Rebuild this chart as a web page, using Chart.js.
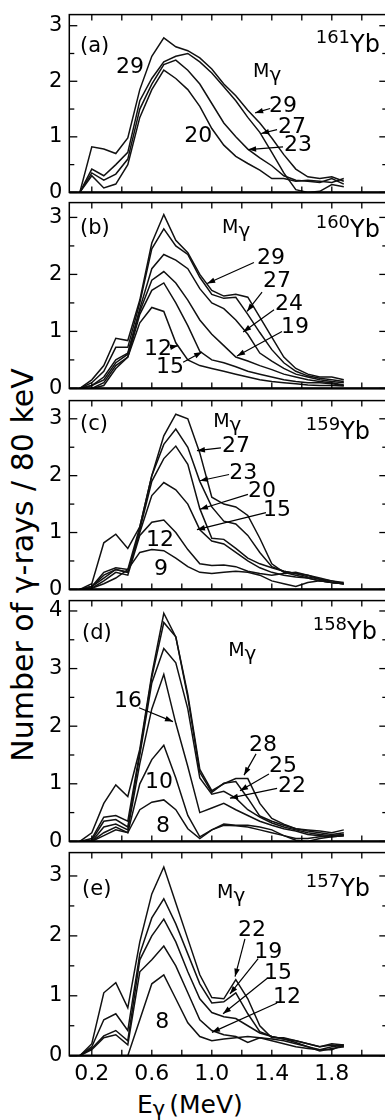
<!DOCTYPE html>
<html><head><meta charset="utf-8">
<script src="https://cdn.jsdelivr.net/npm/chart.js@4.4.1/dist/chart.umd.min.js"></script>
<style>
html,body{margin:0;padding:0;background:#fff;overflow:hidden;}
#wrap{position:relative;width:385px;height:1120px;overflow:hidden;background:#fff;}
#wrap canvas{position:absolute;left:0;}
.t{position:absolute;font-family:"DejaVu Sans",sans-serif;color:#000;white-space:nowrap;}
#ytitle{font-size:30px;line-height:30px;width:440px;text-align:center;left:-197.5px;top:550px;transform:rotate(-90deg);transform-origin:50% 50%;}
#xtitle{font-size:25px;line-height:25px;left:137px;top:1092px;}
#xtitle span{font-size:21px;vertical-align:-3px;margin-right:4px;}
</style></head><body><div id="wrap">
<div class="t" id="ytitle">Number of γ-rays / 80 keV</div>
<div class="t" id="xtitle">E<span>γ</span>(MeV)</div>
</div>
<script>
// ---- data (80 keV bins) ----
const energies = [0.12,0.20,0.28,0.36,0.44,0.52,0.60,0.68,0.76,0.84,0.92,1.00,1.08,1.16,1.24,1.32,1.40,1.48,1.56,1.64,1.72,1.80,1.88];

// (a) 161Yb
const a29 = [0,0.82,0.78,0.70,0.98,1.85,2.45,2.78,2.62,2.55,2.42,2.22,1.95,1.74,1.48,1.25,0.98,0.68,0.42,0.28,0.25,0.28,0.20];
const a27 = [0,0.42,0.30,0.50,0.72,1.65,2.05,2.35,2.45,2.50,2.35,2.15,1.90,1.65,1.35,1.08,0.72,0.35,0.05,0.00,0.02,0.14,0.10];
const a23 = [0,0.35,0.22,0.33,0.60,1.50,1.95,2.30,2.38,2.20,1.95,1.60,1.25,1.00,0.78,0.62,0.48,0.30,0.22,0.20,0.18,0.25,0.15];
const a20 = [0,0.30,0.08,0.15,0.50,1.35,1.85,2.20,2.05,1.85,1.55,1.15,0.85,0.65,0.52,0.40,0.25,0.25,0.20,0.22,0.20,0.18,0.25];

// (b) 160Yb
const b29 = [0,0.15,0.40,0.88,0.84,1.55,2.55,3.05,2.60,2.38,2.00,1.72,1.62,1.65,1.60,1.25,0.90,0.55,0.35,0.25,0.20,0.20,0.15];
const b27 = [0,0.10,0.30,0.72,0.72,1.50,2.45,2.80,2.50,2.35,1.95,1.65,1.58,1.60,1.30,0.98,0.68,0.45,0.30,0.22,0.18,0.15,0.12];
const b24 = [0,0.05,0.20,0.50,0.62,1.40,2.10,2.35,2.25,2.10,1.75,1.50,1.40,1.20,0.95,0.62,0.48,0.35,0.25,0.20,0.15,0.12,0.10];
const b19 = [0,0.05,0.15,0.45,0.60,1.35,1.90,2.05,1.85,1.55,1.20,0.95,0.75,0.55,0.48,0.40,0.33,0.25,0.20,0.15,0.12,0.10,0.06];
const b15 = [0,0.00,0.10,0.40,0.55,1.30,1.72,1.85,1.50,1.10,0.65,0.50,0.45,0.38,0.30,0.25,0.20,0.15,0.12,0.10,0.10,0.08,0.05];
const b12 = [0,0.00,0.05,0.35,0.55,1.15,1.42,1.35,0.80,0.50,0.40,0.35,0.30,0.25,0.20,0.15,0.12,0.10,0.08,0.06,0.05,0.05,0.04];

// (c) 159Yb
const c27 = [0,0.10,0.82,0.97,0.72,1.10,2.00,2.70,3.08,3.00,2.40,1.62,1.50,1.45,1.30,0.90,0.45,0.30,0.25,0.20,0.15,0.12,0.10];
const c23 = [0,0.05,0.30,0.38,0.35,1.10,2.00,2.55,2.82,2.50,1.90,1.45,1.20,1.15,0.95,0.65,0.40,0.32,0.28,0.25,0.20,0.15,0.10];
const c20 = [0,0.05,0.25,0.35,0.30,1.05,1.90,2.30,2.52,2.20,1.42,0.90,0.88,0.72,0.55,0.45,0.38,0.32,0.28,0.22,0.18,0.15,0.12];
const c15 = [0,0.05,0.20,0.35,0.30,1.00,1.65,1.88,1.75,1.50,1.05,0.85,0.80,0.65,0.50,0.38,0.30,0.25,0.22,0.20,0.15,0.12,0.10];
const c12 = [0,0.02,0.15,0.30,0.25,0.95,1.18,1.22,1.00,0.70,0.45,0.42,0.43,0.40,0.32,0.28,0.25,0.28,0.30,0.25,0.18,0.12,0.10];
const c9  = [0,0.02,0.10,0.20,0.35,0.65,0.70,0.68,0.55,0.40,0.30,0.28,0.30,0.32,0.30,0.25,0.15,0.10,0.05,0.12,0.15,0.12,0.10];

// (d) 158Yb
const d28 = [0,0.15,0.66,0.98,0.78,1.60,2.90,3.96,3.55,2.55,1.25,0.88,1.00,1.09,1.09,0.66,0.40,0.30,0.22,0.20,0.18,0.15,0.20];
const d25 = [0,0.05,0.42,0.45,0.35,1.55,2.85,3.80,3.55,2.50,1.20,0.85,1.01,1.04,0.75,0.44,0.35,0.28,0.22,0.18,0.15,0.12,0.15];
const d22 = [0,0.02,0.35,0.38,0.25,1.50,2.75,3.35,3.10,2.30,1.10,0.82,0.87,0.75,0.55,0.42,0.32,0.25,0.20,0.15,0.12,0.10,0.12];
const d16 = [0,0.00,0.25,0.30,0.20,1.35,2.30,2.90,2.05,1.30,0.50,0.58,0.66,0.55,0.45,0.35,0.28,0.22,0.18,0.12,0.10,0.08,0.10];
const d10 = [0,0.00,0.15,0.25,0.15,1.00,1.42,1.67,1.10,0.45,0.08,0.20,0.30,0.28,0.28,0.25,0.20,0.10,0.02,0.00,0.05,0.08,0.10];
const d8  = [0,0.00,0.10,0.20,0.15,0.55,0.68,0.72,0.55,0.22,0.05,0.20,0.28,0.27,0.25,0.20,0.15,0.10,0.05,0.05,0.08,0.10,0.12];

// (e) 157Yb
const e22 = [0,0.20,1.05,1.22,0.80,1.90,2.70,3.15,2.55,1.95,1.35,0.97,0.95,1.27,0.95,0.50,0.30,0.30,0.25,0.20,0.15,0.20,0.18];
const e19 = [0,0.15,0.60,0.70,0.42,1.70,2.30,2.62,2.20,1.70,1.20,0.88,0.90,1.05,0.70,0.40,0.32,0.28,0.25,0.20,0.15,0.18,0.15];
const e15 = [0,0.12,0.33,0.42,0.25,1.60,2.00,2.28,1.90,1.40,0.95,0.72,0.65,0.62,0.50,0.38,0.32,0.28,0.22,0.15,0.08,0.12,0.15];
const e12 = [0,0.10,0.30,0.35,0.18,1.40,1.60,1.83,1.50,1.05,0.60,0.42,0.35,0.32,0.22,0.30,0.28,0.25,0.20,0.15,0.10,0.10,0.18];
const e8  = [0,0.00,0.00,0.00,0.00,0.60,1.20,1.35,0.95,0.55,0.32,0.25,0.28,0.30,0.32,0.30,0.25,0.20,0.15,0.12,0.10,0.15,0.18];

// ticks
const xTicks = [0.2,0.4,0.6,0.8,1.0,1.2,1.4,1.6,1.8,2.0];
const xLabelled = [0.2,0.6,1.0,1.4,1.8];
const yTicks3 = [0,0.5,1,1.5,2,2.5,3];
const yTicks4 = [0,0.5,1,1.5,2,2.5,3,3.5,4];

// ---- rendering ----
const FONT = '"DejaVu Sans", sans-serif';
Chart.defaults.font.family = FONT;
Chart.defaults.color = '#000';
const wrap = document.getElementById('wrap');
const pts = arr => energies.map((e,i)=>({x:e,y:arr[i]}));

const panels = [
 {name:'a', top:10.7, zero:199.3, max:3.2, yTicks:yTicks3, series:[a29,a27,a23,a20],
  lab:{t:'(a)',x:0.121,y:2.53}, iso:{m:'161',x:2.121,y:2.52}, mg:{x:1.275,y:2.07},
  nums:[['29',0.455,2.25],['20',0.909,1.01],['29',1.475,1.55],['27',1.535,1.17],['23',1.575,0.84]],
  arrows:[[1.389,1.51,1.289,1.43],[1.435,1.13,1.329,1.06],[1.475,0.82,1.242,0.77]]},
 {name:'b', top:199.3, zero:396.7, max:3.26, yTicks:yTicks3, series:[b29,b27,b24,b19,b15,b12],
  lab:{t:'(b)',x:0.121,y:2.71}, iso:{m:'160',x:2.121,y:2.65}, mg:{x:1.068,y:2.72},
  nums:[['29',1.395,2.29],['27',1.435,1.88],['24',1.515,1.48],['19',1.555,1.07],['12',0.641,0.69],['15',0.722,0.37]],
  arrows:[[1.281,2.21,0.969,1.84],[1.335,1.69,1.235,1.35],[1.415,1.38,1.209,0.99],[1.468,1.00,1.168,0.57],[0.721,0.72,0.775,0.75],[0.809,0.46,0.935,0.64]]},
 {name:'c', top:396.7, zero:596.7, max:3.32, yTicks:yTicks3, series:[c27,c23,c20,c15,c12,c9],
  lab:{t:'(c)',x:0.121,y:2.80}, iso:{m:'159',x:2.055,y:2.65}, mg:{x:1.009,y:2.85},
  nums:[['27',1.162,2.52],['23',1.209,2.05],['20',1.335,1.72],['15',1.435,1.39],['12',0.655,0.86],['9',0.661,0.36]],
  arrows:[[1.061,2.49,0.901,2.44],[1.115,2.02,0.921,1.91],[1.241,1.67,0.921,1.41],[1.361,1.35,0.901,1.05]]},
 {name:'d', top:596.7, zero:848.3, max:4.18, yTicks:yTicks4, series:[d28,d25,d22,d16,d10,d8],
  lab:{t:'(d)',x:0.135,y:3.51}, iso:{m:'158',x:2.101,y:3.52}, mg:{x:1.109,y:3.21},
  nums:[['16',0.442,2.43],['28',1.341,1.66],['25',1.475,1.30],['22',1.535,0.95],['10',0.648,1.02],['8',0.675,0.27]],
  arrows:[[0.515,2.32,0.741,2.08],[1.295,1.52,1.215,1.15],[1.381,1.17,1.188,0.88],[1.435,0.92,1.121,0.75]]},
 {name:'e', top:849, zero:1055.7, max:3.39, yTicks:yTicks3, series:[e22,e19,e15,e12,e8], showX:true,
  lab:{t:'(e)',x:0.135,y:2.68}, iso:{m:'157',x:2.055,y:2.66}, mg:{x:1.035,y:2.63},
  nums:[['22',1.268,2.09],['19',1.376,1.73],['15',1.441,1.37],['12',1.501,0.98],['8',0.669,0.55]],
  arrows:[[1.221,1.95,1.155,1.32],[1.309,1.62,1.121,1.03],[1.368,1.29,1.075,0.70],[1.435,0.88,1.001,0.39]]}
];

function deco(p){
  return {id:'deco_'+p.name, afterDraw(chart){
    const ctx = chart.ctx, xs = chart.scales.x, ys = chart.scales.y, ca = chart.chartArea;
    const X = v => xs.getPixelForValue(v), Y = v => ys.getPixelForValue(v);
    const line = (x1,y1,x2,y2) => {ctx.beginPath(); ctx.moveTo(x1,y1); ctx.lineTo(x2,y2); ctx.stroke();};
    ctx.save();
    ctx.strokeStyle = '#000'; ctx.fillStyle = '#000';
    ctx.lineWidth = 1.5;
    ctx.strokeRect(ca.left, ca.top, ca.right-ca.left, ca.bottom-ca.top);
    ctx.lineWidth = 2.2; line(ca.left, ca.bottom, ca.right, ca.bottom);
    ctx.lineWidth = 1.3;
    xTicks.forEach(v => {const x = X(v); line(x, ca.bottom, x, ca.bottom-6); line(x, ca.top, x, ca.top+6);});
    p.yTicks.forEach(v => {const y = Y(v), L = Number.isInteger(v) ? 8 : 5; line(ca.left, y, ca.left+L, y); line(ca.right, y, ca.right-L, y);});
    // panel label
    ctx.textBaseline = 'alphabetic';
    ctx.font = '21px ' + FONT; ctx.textAlign = 'left';
    ctx.fillText(p.lab.t, X(p.lab.x), Y(p.lab.y));
    // isotope
    ctx.font = '24px ' + FONT; ctx.textAlign = 'right';
    const ix = X(p.iso.x), iy = Y(p.iso.y);
    ctx.fillText('Yb', ix, iy);
    const wYb = ctx.measureText('Yb').width;
    ctx.font = '18px ' + FONT;
    ctx.fillText(p.iso.m, ix - wYb, iy - 9);
    // M gamma
    ctx.textAlign = 'left';
    ctx.font = '19px ' + FONT;
    const mx = X(p.mg.x), my = Y(p.mg.y);
    ctx.fillText('M', mx, my);
    const wM = ctx.measureText('M').width;
    ctx.font = '20px ' + FONT;
    ctx.fillText('γ', mx + wM, my + 4);
    // numbers
    ctx.font = '22px ' + FONT; ctx.textAlign = 'center'; ctx.textBaseline = 'middle';
    p.nums.forEach(n => ctx.fillText(n[0], X(n[1]), Y(n[2])));
    // arrows
    ctx.lineWidth = 1.2;
    p.arrows.forEach(a => {
      const x1 = X(a[0]), y1 = Y(a[1]), x2 = X(a[2]), y2 = Y(a[3]);
      line(x1,y1,x2,y2);
      const ang = Math.atan2(y2-y1, x2-x1), L = 8, W = 2.8;
      ctx.beginPath();
      ctx.moveTo(x2, y2);
      ctx.lineTo(x2 - L*Math.cos(ang) + W*Math.sin(ang), y2 - L*Math.sin(ang) - W*Math.cos(ang));
      ctx.lineTo(x2 - L*Math.cos(ang) - W*Math.sin(ang), y2 - L*Math.sin(ang) + W*Math.cos(ang));
      ctx.closePath(); ctx.fill();
    });
    ctx.restore();
  }};
}

panels.forEach(p => {
  const padTop = 16, padBot = p.showX ? 0 : 12, xH = p.showX ? 40 : 0;
  const h = Math.round(padTop + (p.zero - p.top) + padBot + xH);
  const cv = document.createElement('canvas');
  cv.width = 400; cv.height = h;
  cv.style.width = '400px'; cv.style.height = h + 'px';
  cv.style.top = (p.top - padTop) + 'px';
  wrap.appendChild(cv);
  new Chart(cv, {
    type: 'line',
    data: {datasets: p.series.map(s => ({data: pts(s), borderColor:'#111', borderWidth:1.5, pointRadius:0, tension:0, fill:false}))},
    options: {
      responsive:false, animation:false, devicePixelRatio:1,
      layout:{padding:{top:padTop, bottom:h - padTop - (p.zero - p.top) - xH, left:0, right:12.7}, autoPadding:false},
      plugins:{legend:{display:false}, tooltip:{enabled:false}},
      scales:{
        x:{type:'linear', min:0.05, max:2.17, display:!!p.showX,
           grid:{display:false, drawTicks:false}, border:{display:false},
           afterBuildTicks: s => { s.ticks = xTicks.map(v => ({value:v})); },
           ticks:{autoSkip:false, maxRotation:0, minRotation:0, padding:5, font:{size:22},
                  callback: v => xLabelled.includes(v) ? v.toFixed(1) : ''},
           afterFit: s => { s.height = xH; }},
        y:{type:'linear', min:0, max:p.max,
           grid:{display:false, drawTicks:false}, border:{display:false},
           afterBuildTicks: s => { s.ticks = p.yTicks.map(v => ({value:v})); },
           ticks:{autoSkip:false, padding:7, font:{size:21},
                  callback: v => Number.isInteger(v) ? String(v) : ''},
           afterFit: s => { s.width = 69.3; }}
      }
    },
    plugins:[deco(p)]
  });
});
</script></body></html>
